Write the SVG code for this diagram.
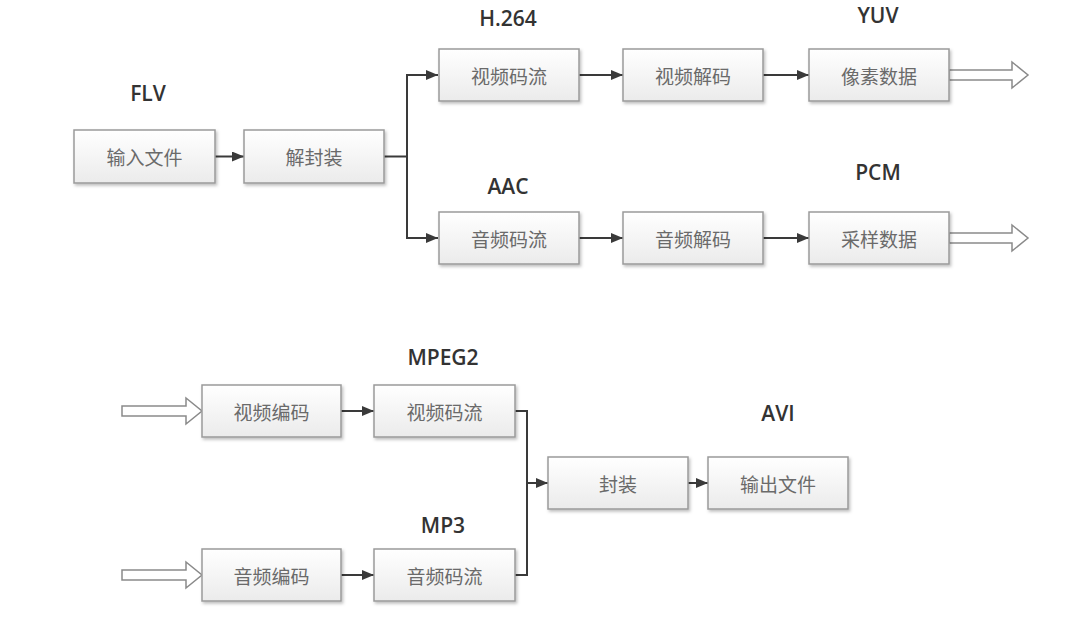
<svg xmlns="http://www.w3.org/2000/svg" width="1066" height="619" viewBox="0 0 1066 619">
<defs>
<linearGradient id="bg" x1="0" y1="0" x2="0" y2="1">
<stop offset="0" stop-color="#ffffff"/>
<stop offset="1" stop-color="#ebebeb"/>
</linearGradient>
<filter id="sh" x="-10%" y="-10%" width="130%" height="140%">
<feDropShadow dx="1.5" dy="2" stdDeviation="1.5" flood-color="#000" flood-opacity="0.25"/>
</filter>
<marker id="ah" viewBox="0 0 12 10" refX="12" refY="5" markerWidth="12" markerHeight="10" markerUnits="userSpaceOnUse" orient="auto">
<path d="M0,0 L12,5 L0,10 Z" fill="#3a3a3a"/>
</marker>
</defs>
<style>
.box rect{fill:url(#bg);stroke:#9a9a9a;stroke-width:1.5;filter:url(#sh)}
.box text{font-family:"Noto Sans CJK SC","Noto Sans CJK JP",sans-serif;font-size:19px;fill:#6a6a6a;text-anchor:middle;dominant-baseline:central}
.lbl{font-family:"Open Sans","Noto Sans",sans-serif;font-size:21px;font-weight:600;fill:#333333;text-anchor:middle}
.ln{fill:none;stroke:#3a3a3a;stroke-width:2}
.hol{fill:#ffffff;stroke:#8a8a8a;stroke-width:1.5}
</style>
<rect width="1066" height="619" fill="#ffffff"/>

<g id="labels">
<text class="lbl" x="148" y="101">FLV</text>
<text class="lbl" x="508" y="26">H.264</text>
<text class="lbl" x="878" y="23">YUV</text>
<text class="lbl" x="508" y="194">AAC</text>
<text class="lbl" x="878" y="180">PCM</text>
<text class="lbl" x="443" y="365">MPEG2</text>
<text class="lbl" x="443" y="533">MP3</text>
<text class="lbl" x="778" y="421">AVI</text>
</g>

<g id="connectors">
<path class="ln" d="M215,156.5 H244" marker-end="url(#ah)"/>
<path class="ln" d="M384,156.5 H407"/>
<path class="ln" d="M438,75 H407 V238 H438" marker-end="url(#ah)"/>
<path class="ln" d="M407,75 H438" marker-end="url(#ah)"/>
<path class="ln" d="M579,75 H623" marker-end="url(#ah)"/>
<path class="ln" d="M763,75 H809" marker-end="url(#ah)"/>
<path class="ln" d="M579,238 H623" marker-end="url(#ah)"/>
<path class="ln" d="M763,238 H809" marker-end="url(#ah)"/>
<path class="ln" d="M341,411 H374" marker-end="url(#ah)"/>
<path class="ln" d="M341,575 H374" marker-end="url(#ah)"/>
<path class="ln" d="M515,411 H527 V575 H515"/>
<path class="ln" d="M527,483 H548" marker-end="url(#ah)"/>
<path class="ln" d="M688,483 H708" marker-end="url(#ah)"/>
<polygon class="hol" points="949,70 1012,70 1012,62 1028,75 1012,88 1012,80 949,80"/>
<polygon class="hol" points="949,233 1012,233 1012,225 1028,238 1012,251 1012,243 949,243"/>
<polygon class="hol" points="122,406 186,406 186,398 202,411 186,424 186,416 122,416"/>
<polygon class="hol" points="122,570 186,570 186,562 202,575 186,588 186,580 122,580"/>
</g>

<g id="n-input" class="box"><rect x="74" y="130" width="141" height="53"/><text x="144.5" y="156.5">输入文件</text></g>
<g id="n-demux" class="box"><rect x="244" y="130" width="140" height="53"/><text x="314" y="156.5">解封装</text></g>
<g id="n-vstream" class="box"><rect x="439" y="49" width="140" height="52"/><text x="509" y="75">视频码流</text></g>
<g id="n-vdec" class="box"><rect x="623" y="49" width="140" height="52"/><text x="693" y="75">视频解码</text></g>
<g id="n-pixel" class="box"><rect x="809" y="49" width="140" height="52"/><text x="879" y="75">像素数据</text></g>
<g id="n-astream" class="box"><rect x="439" y="212" width="140" height="52"/><text x="509" y="238">音频码流</text></g>
<g id="n-adec" class="box"><rect x="623" y="212" width="140" height="52"/><text x="693" y="238">音频解码</text></g>
<g id="n-sample" class="box"><rect x="809" y="212" width="140" height="52"/><text x="879" y="238">采样数据</text></g>
<g id="n-venc" class="box"><rect x="202" y="385" width="139" height="52"/><text x="271.5" y="411">视频编码</text></g>
<g id="n-vstream2" class="box"><rect x="374" y="385" width="141" height="52"/><text x="444.5" y="411">视频码流</text></g>
<g id="n-aenc" class="box"><rect x="202" y="549" width="139" height="52"/><text x="271.5" y="575">音频编码</text></g>
<g id="n-astream2" class="box"><rect x="374" y="549" width="141" height="52"/><text x="444.5" y="575">音频码流</text></g>
<g id="n-mux" class="box"><rect x="548" y="457" width="140" height="52"/><text x="618" y="483">封装</text></g>
<g id="n-output" class="box"><rect x="708" y="457" width="140" height="52"/><text x="778" y="483">输出文件</text></g>
</svg>
